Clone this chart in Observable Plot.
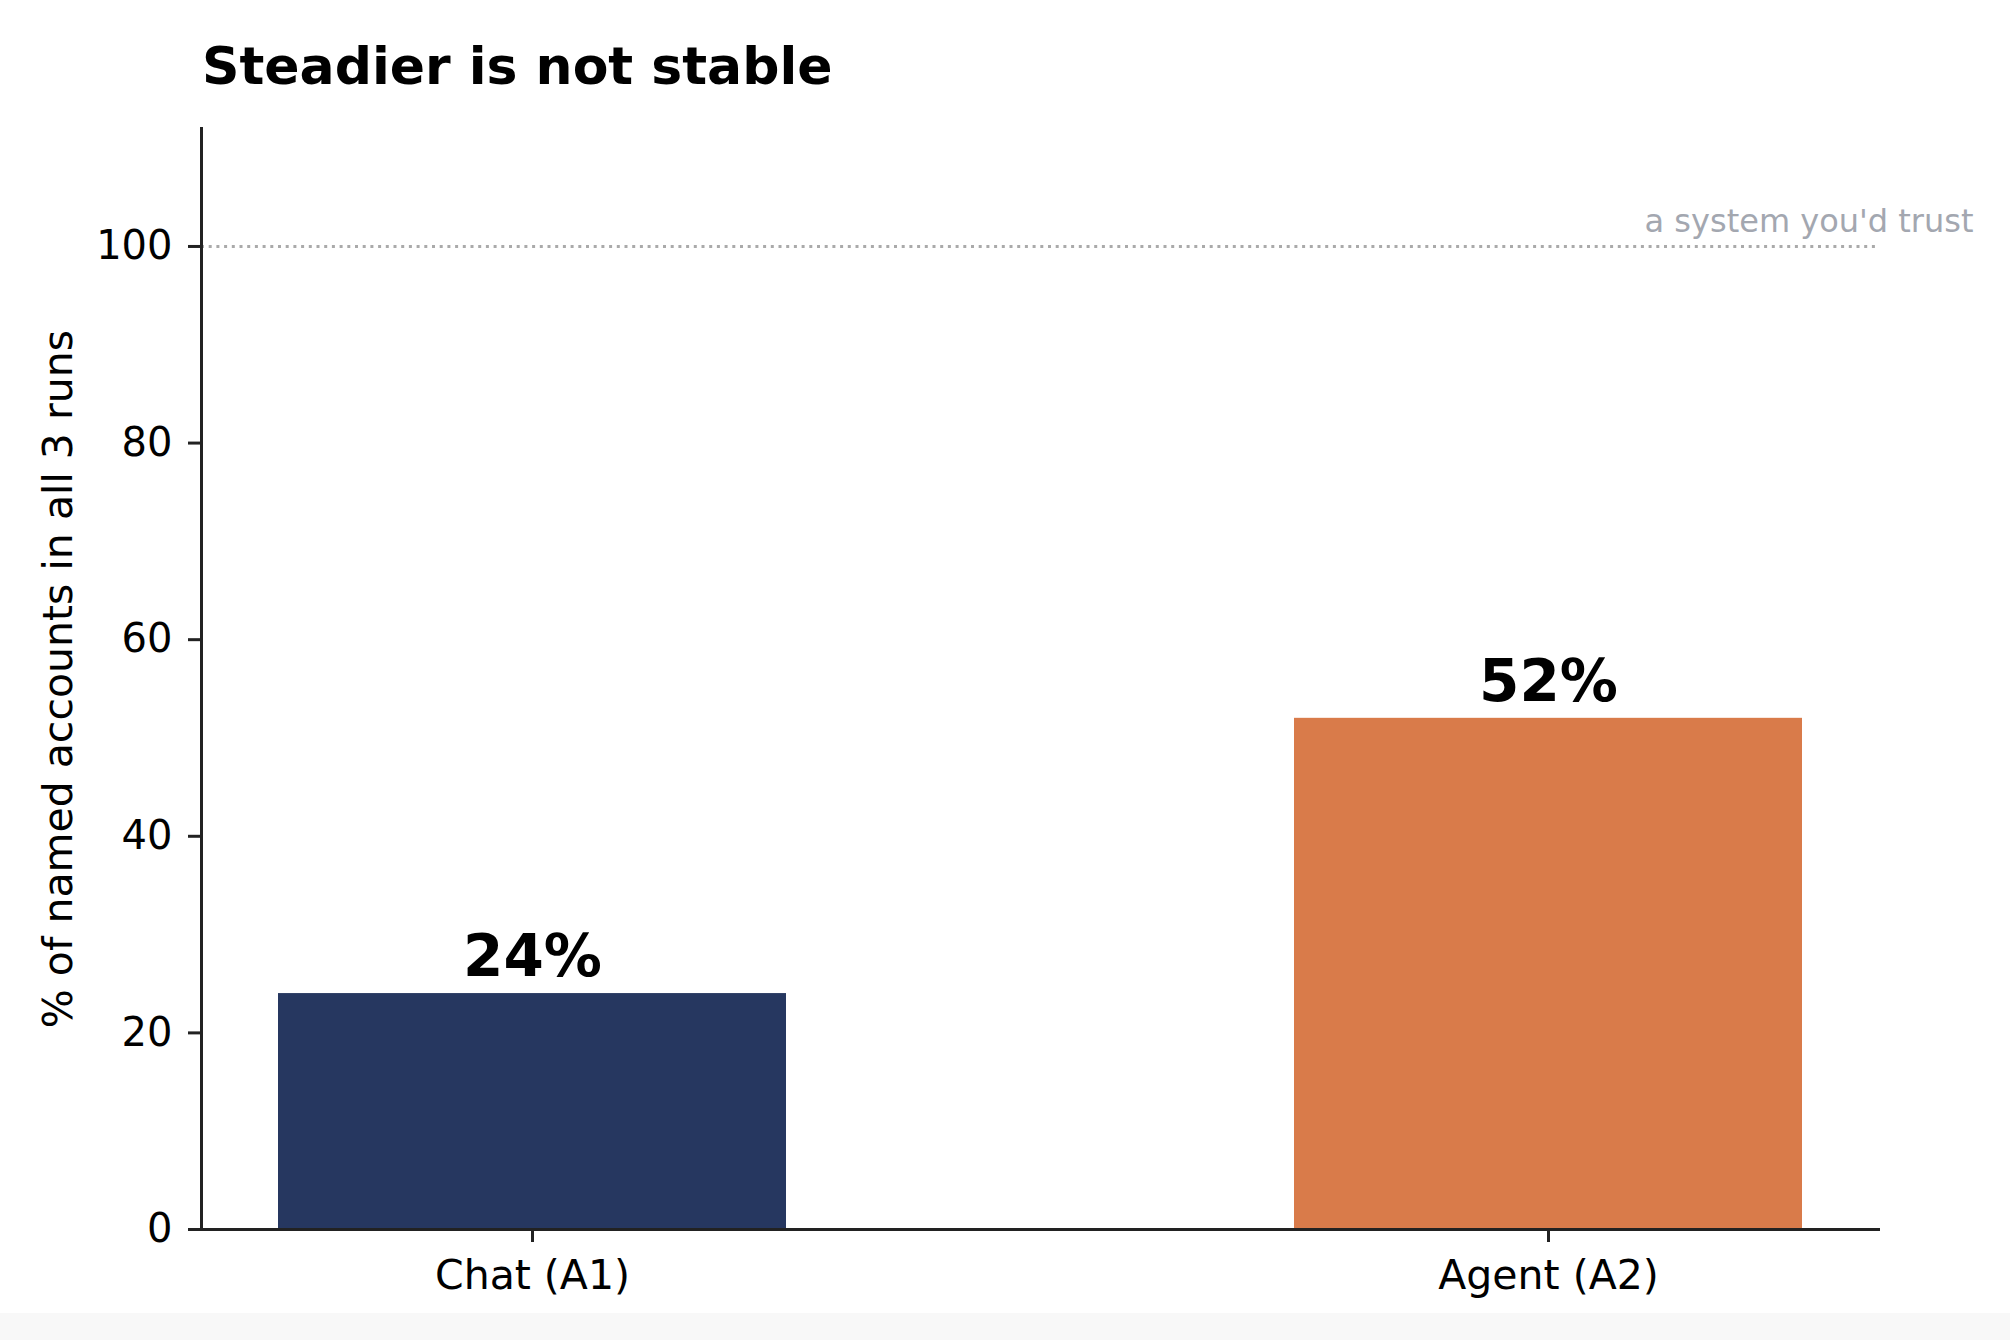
<!DOCTYPE html>
<html>
<head>
<meta charset="utf-8">
<script src="https://cdn.jsdelivr.net/npm/d3@7"></script>
<script src="https://cdn.jsdelivr.net/npm/@observablehq/plot@0.6"></script>
<style>
  html, body { margin: 0; padding: 0; background: #ffffff; }
  #page { position: relative; width: 2010px; height: 1340px; overflow: hidden; background: #ffffff; font-family: "DejaVu Sans", sans-serif; }
  #title { position: absolute; left: 202px; top: 40px; font-size: 52px; line-height: 52px; font-weight: bold; color: #000; white-space: nowrap; }
  #chart { position: absolute; left: 0; top: 0; }
  #strip { position: absolute; left: 0; top: 1313px; width: 2010px; height: 27px; background: #f8f8f8; }
</style>
</head>
<body>
<div id="page">
  <div id="chart"></div>
  <div id="title">Steadier is not stable</div>
  <div id="strip"></div>
</div>
<script>
const categories = ["Chat (A1)", "Agent (A2)"];
const values = [24, 52];
const barColors = ["#263760", "#D97B4A"];
const yTicks = [0, 20, 40, 60, 80, 100];
const referenceValue = [100];
const referenceLabel = "a system you'd trust";
const yLabel = "% of named accounts in all 3 runs";

const data = categories.map((c, i) => ({category: c, value: values[i]}));

const chart = Plot.plot({
  width: 2010,
  height: 1340,
  marginLeft: 201,
  marginRight: 132,
  marginTop: 128,
  marginBottom: 111,
  style: {fontFamily: "DejaVu Sans", fontSize: "41px", color: "#000", background: "transparent"},
  x: {type: "band", domain: categories, paddingInner: 0.5, paddingOuter: 0.075, align: 0.5, label: null},
  y: {domain: [0, 112], label: null},
  color: {domain: categories, range: barColors},
  marks: [
    Plot.barY(data, {x: "category", y: "value", fill: "category"}),
    Plot.ruleY(referenceValue, {stroke: "#aaaaaa", strokeWidth: 3, strokeDasharray: "3,4.7"}),
    Plot.text(referenceValue, {y: d => d, text: () => referenceLabel, frameAnchor: "right", textAnchor: "end", dx: 95, dy: -25, fill: "#a3a7b0", fontSize: 32}),
    Plot.text(data, {x: "category", y: "value", text: d => d.value + "%", dy: -36, fontWeight: "bold", fontSize: 58, fill: "#000"}),
    Plot.text([yLabel], {text: d => d, frameAnchor: "left", textAnchor: "middle", lineAnchor: "middle", dx: -143, rotate: -90, fontSize: 41, fill: "#000"}),
    Plot.axisY({ticks: yTicks, tickSize: 13, tickPadding: 16, strokeWidth: 3, stroke: "#222", label: null, fontSize: 40}),
    Plot.axisX({tickSize: 13, tickPadding: 17, strokeWidth: 3, stroke: "#222", label: null, fontSize: 41}),
    Plot.frame({anchor: "left", stroke: "#222", strokeWidth: 3}),
    Plot.frame({anchor: "bottom", stroke: "#222", strokeWidth: 3})
  ]
});
document.getElementById("chart").appendChild(chart);
</script>
</body>
</html>
